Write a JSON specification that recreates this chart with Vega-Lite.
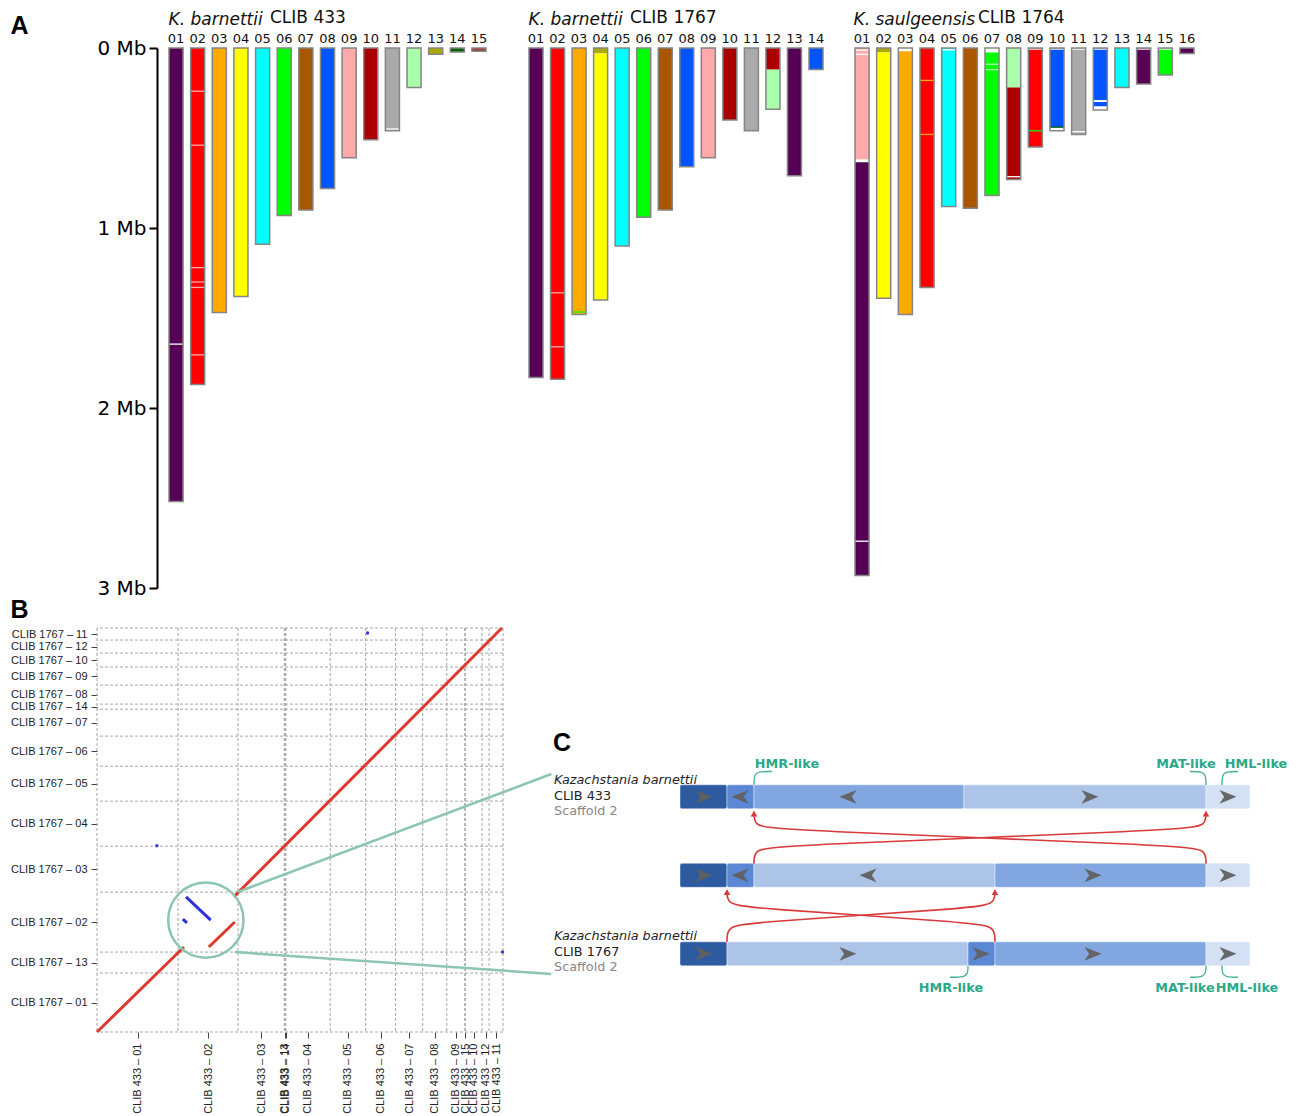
{
"$schema": "https://vega.github.io/schema/vega-lite/v6.json",
"padding": {"left": 10, "top": 9, "right": 0, "bottom": 0},
"background": "white",
"config": {"view": {"stroke": null}, "font": "DejaVu Sans"},
"spacing": -1,
"resolve": {"scale": {"x": "independent", "y": "independent", "color": "independent", "shape": "independent"}},
"datasets": {
"segs": [
{"s":"433","chr":"01","a":0,"b":2.52,"g":"01"},
{"s":"433","chr":"02","a":0,"b":1.87,"g":"02"},
{"s":"433","chr":"03","a":0,"b":1.47,"g":"03"},
{"s":"433","chr":"04","a":0,"b":1.38,"g":"04"},
{"s":"433","chr":"05","a":0,"b":1.09,"g":"05"},
{"s":"433","chr":"06","a":0,"b":0.93,"g":"06"},
{"s":"433","chr":"07","a":0,"b":0.90,"g":"07"},
{"s":"433","chr":"08","a":0,"b":0.78,"g":"08"},
{"s":"433","chr":"09","a":0,"b":0.61,"g":"09"},
{"s":"433","chr":"10","a":0,"b":0.51,"g":"10"},
{"s":"433","chr":"11","a":0,"b":0.46,"g":"11"},
{"s":"433","chr":"12","a":0,"b":0.22,"g":"12"},
{"s":"433","chr":"13","a":0,"b":0.035,"g":"13"},
{"s":"433","chr":"14","a":0,"b":0.022,"g":"14"},
{"s":"433","chr":"15","a":0,"b":0.018,"g":"15"},
{"s":"1767","chr":"01","a":0,"b":1.83,"g":"01"},
{"s":"1767","chr":"02","a":0,"b":1.84,"g":"02"},
{"s":"1767","chr":"03","a":0,"b":1.48,"g":"03"},
{"s":"1767","chr":"04","a":0,"b":0.03,"g":"13"},
{"s":"1767","chr":"04","a":0.03,"b":1.40,"g":"04"},
{"s":"1767","chr":"05","a":0,"b":1.10,"g":"05"},
{"s":"1767","chr":"06","a":0,"b":0.94,"g":"06"},
{"s":"1767","chr":"07","a":0,"b":0.90,"g":"07"},
{"s":"1767","chr":"08","a":0,"b":0.66,"g":"08"},
{"s":"1767","chr":"09","a":0,"b":0.61,"g":"09"},
{"s":"1767","chr":"10","a":0,"b":0.40,"g":"10"},
{"s":"1767","chr":"11","a":0,"b":0.46,"g":"11"},
{"s":"1767","chr":"12","a":0,"b":0.12,"g":"10"},
{"s":"1767","chr":"12","a":0.12,"b":0.34,"g":"12"},
{"s":"1767","chr":"13","a":0,"b":0.71,"g":"01"},
{"s":"1767","chr":"14","a":0,"b":0.12,"g":"08"},
{"s":"1764","chr":"01","a":0,"b":0.62,"g":"09"},
{"s":"1764","chr":"01","a":0.62,"b":0.635,"g":"none"},
{"s":"1764","chr":"01","a":0.635,"b":2.93,"g":"01"},
{"s":"1764","chr":"02","a":0,"b":0.025,"g":"13"},
{"s":"1764","chr":"02","a":0.025,"b":1.39,"g":"04"},
{"s":"1764","chr":"03","a":0,"b":0.018,"g":"none"},
{"s":"1764","chr":"03","a":0.018,"b":1.48,"g":"03"},
{"s":"1764","chr":"04","a":0,"b":1.33,"g":"02"},
{"s":"1764","chr":"05","a":0,"b":0.88,"g":"05"},
{"s":"1764","chr":"06","a":0,"b":0.89,"g":"07"},
{"s":"1764","chr":"07","a":0,"b":0.025,"g":"none"},
{"s":"1764","chr":"07","a":0.025,"b":0.82,"g":"06"},
{"s":"1764","chr":"08","a":0,"b":0.22,"g":"12"},
{"s":"1764","chr":"08","a":0.22,"b":0.73,"g":"10"},
{"s":"1764","chr":"09","a":0,"b":0.55,"g":"02"},
{"s":"1764","chr":"10","a":0,"b":0.44,"g":"08"},
{"s":"1764","chr":"10","a":0.44,"b":0.46,"g":"none"},
{"s":"1764","chr":"11","a":0,"b":0.48,"g":"11"},
{"s":"1764","chr":"12","a":0,"b":0.29,"g":"08"},
{"s":"1764","chr":"12","a":0.29,"b":0.30,"g":"none"},
{"s":"1764","chr":"12","a":0.30,"b":0.325,"g":"08"},
{"s":"1764","chr":"12","a":0.325,"b":0.345,"g":"none"},
{"s":"1764","chr":"13","a":0,"b":0.22,"g":"05"},
{"s":"1764","chr":"14","a":0,"b":0.20,"g":"01"},
{"s":"1764","chr":"15","a":0,"b":0.15,"g":"06"},
{"s":"1764","chr":"16","a":0,"b":0.03,"g":"01"}
],
"stripes": [
{"s":"433","chr":"01","a":1.645,"g":"none"},
{"s":"433","chr":"02","a":0.24,"g":"09"},
{"s":"433","chr":"02","a":0.54,"g":"09"},
{"s":"433","chr":"02","a":1.22,"g":"09"},
{"s":"433","chr":"02","a":1.30,"g":"09"},
{"s":"433","chr":"02","a":1.33,"g":"09"},
{"s":"433","chr":"02","a":1.705,"g":"09"},
{"s":"433","chr":"11","a":0.45,"g":"none"},
{"s":"1767","chr":"02","a":1.36,"g":"09"},
{"s":"1767","chr":"02","a":1.66,"g":"09"},
{"s":"1767","chr":"03","a":1.467,"g":"06"},
{"s":"1764","chr":"01","a":0.012,"g":"none"},
{"s":"1764","chr":"01","a":0.035,"g":"none"},
{"s":"1764","chr":"01","a":2.74,"g":"none"},
{"s":"1764","chr":"04","a":0.18,"g":"03"},
{"s":"1764","chr":"04","a":0.48,"g":"03"},
{"s":"1764","chr":"05","a":0.01,"g":"none"},
{"s":"1764","chr":"07","a":0.09,"g":"12"},
{"s":"1764","chr":"07","a":0.12,"g":"12"},
{"s":"1764","chr":"08","a":0.715,"g":"none"},
{"s":"1764","chr":"09","a":0.006,"g":"none"},
{"s":"1764","chr":"09","a":0.46,"g":"06"},
{"s":"1764","chr":"10","a":0.006,"g":"none"},
{"s":"1764","chr":"10","a":0.44,"g":"14"},
{"s":"1764","chr":"11","a":0.006,"g":"none"},
{"s":"1764","chr":"11","a":0.465,"g":"none"},
{"s":"1764","chr":"12","a":0.006,"g":"none"},
{"s":"1764","chr":"14","a":0.006,"g":"none"},
{"s":"1764","chr":"15","a":0.006,"g":"none"}
],
"chroms": [
{"s":"433","chr":"01","a":0,"b":2.52},{"s":"433","chr":"02","a":0,"b":1.87},{"s":"433","chr":"03","a":0,"b":1.47},
{"s":"433","chr":"04","a":0,"b":1.38},{"s":"433","chr":"05","a":0,"b":1.09},{"s":"433","chr":"06","a":0,"b":0.93},
{"s":"433","chr":"07","a":0,"b":0.90},{"s":"433","chr":"08","a":0,"b":0.78},{"s":"433","chr":"09","a":0,"b":0.61},
{"s":"433","chr":"10","a":0,"b":0.51},{"s":"433","chr":"11","a":0,"b":0.46},{"s":"433","chr":"12","a":0,"b":0.22},
{"s":"433","chr":"13","a":0,"b":0.035},{"s":"433","chr":"14","a":0,"b":0.022},{"s":"433","chr":"15","a":0,"b":0.018},
{"s":"1767","chr":"01","a":0,"b":1.83},{"s":"1767","chr":"02","a":0,"b":1.84},{"s":"1767","chr":"03","a":0,"b":1.48},
{"s":"1767","chr":"04","a":0,"b":1.40},{"s":"1767","chr":"05","a":0,"b":1.10},{"s":"1767","chr":"06","a":0,"b":0.94},
{"s":"1767","chr":"07","a":0,"b":0.90},{"s":"1767","chr":"08","a":0,"b":0.66},{"s":"1767","chr":"09","a":0,"b":0.61},
{"s":"1767","chr":"10","a":0,"b":0.40},{"s":"1767","chr":"11","a":0,"b":0.46},{"s":"1767","chr":"12","a":0,"b":0.34},
{"s":"1767","chr":"13","a":0,"b":0.71},{"s":"1767","chr":"14","a":0,"b":0.12},
{"s":"1764","chr":"01","a":0,"b":2.93},{"s":"1764","chr":"02","a":0,"b":1.39},{"s":"1764","chr":"03","a":0,"b":1.48},
{"s":"1764","chr":"04","a":0,"b":1.33},{"s":"1764","chr":"05","a":0,"b":0.88},{"s":"1764","chr":"06","a":0,"b":0.89},
{"s":"1764","chr":"07","a":0,"b":0.82},{"s":"1764","chr":"08","a":0,"b":0.73},{"s":"1764","chr":"09","a":0,"b":0.55},
{"s":"1764","chr":"10","a":0,"b":0.46},{"s":"1764","chr":"11","a":0,"b":0.48},{"s":"1764","chr":"12","a":0,"b":0.345},
{"s":"1764","chr":"13","a":0,"b":0.22},{"s":"1764","chr":"14","a":0,"b":0.20},{"s":"1764","chr":"15","a":0,"b":0.15},
{"s":"1764","chr":"16","a":0,"b":0.03}
],
"bx": [{"v":0},{"v":2.56},{"v":4.45},{"v":5.91},{"v":5.94},{"v":5.96},{"v":7.36},{"v":8.48},{"v":9.42},{"v":10.28},{"v":11.04},{"v":11.61},{"v":11.625},{"v":12.155},{"v":12.375},{"v":12.815}],
"by": [{"v":0},{"v":1.86},{"v":2.52},{"v":4.41},{"v":5.86},{"v":7.28},{"v":8.38},{"v":9.33},{"v":10.18},{"v":10.34},{"v":10.94},{"v":11.51},{"v":11.95},{"v":12.36},{"v":12.74}],
"bsegs": [
{"x1":0,"y1":0,"x2":2.743,"y2":2.68,"k":"syn"},
{"x1":3.53,"y1":2.68,"x2":4.35,"y2":3.47,"k":"syn"},
{"x1":4.32,"y1":4.26,"x2":12.78,"y2":12.74,"k":"syn"},
{"x1":2.81,"y1":4.26,"x2":3.59,"y2":3.53,"k":"inv"},
{"x1":2.71,"y1":3.56,"x2":2.84,"y2":3.44,"k":"inv"}
],
"bdots": [{"x":1.89,"y":5.87},{"x":8.54,"y":12.58},{"x":12.8,"y":2.52}],
"bzoom": [{"x":3.436,"y":3.53}],
"blinks": [{"x1":4.445,"y1":4.415,"x2":14.34,"y2":8.135},{"x1":4.35,"y1":2.52,"x2":14.34,"y2":1.83}],
"cblocks": [
{"t":0,"u":0,"u2":8.25,"shade":"L"},{"t":0,"u":8.25,"u2":12.98,"shade":"HMR"},{"t":0,"u":12.98,"u2":49.82,"shade":"b1"},{"t":0,"u":49.82,"u2":92.28,"shade":"b2"},{"t":0,"u":92.28,"u2":100,"shade":"R"},
{"t":1,"u":0,"u2":8.25,"shade":"L"},{"t":1,"u":8.25,"u2":12.98,"shade":"HMR"},{"t":1,"u":12.98,"u2":55.26,"shade":"b2"},{"t":1,"u":55.26,"u2":92.28,"shade":"b1"},{"t":1,"u":92.28,"u2":100,"shade":"R"},
{"t":2,"u":0,"u2":8.25,"shade":"L"},{"t":2,"u":8.25,"u2":50.53,"shade":"b2"},{"t":2,"u":50.53,"u2":55.26,"shade":"HMR"},{"t":2,"u":55.26,"u2":92.28,"shade":"b1"},{"t":2,"u":92.28,"u2":100,"shade":"R"}
],
"carrows": [
{"t":0,"u":4.21,"dir":"fwd"},{"t":0,"u":10.53,"dir":"rev"},{"t":0,"u":29.47,"dir":"rev"},{"t":0,"u":71.93,"dir":"fwd"},{"t":0,"u":96.14,"dir":"fwd"},
{"t":1,"u":4.21,"dir":"fwd"},{"t":1,"u":10.53,"dir":"rev"},{"t":1,"u":32.98,"dir":"rev"},{"t":1,"u":72.46,"dir":"fwd"},{"t":1,"u":96.14,"dir":"fwd"},
{"t":2,"u":4.21,"dir":"fwd"},{"t":2,"u":29.47,"dir":"fwd"},{"t":2,"u":52.81,"dir":"fwd"},{"t":2,"u":72.46,"dir":"fwd"},{"t":2,"u":96.14,"dir":"fwd"}
],
"ccurves": [
{"c":"A","i":0,"u":12.98,"t":0.19},{"c":"A","i":1,"u":12.98,"t":0.36},{"c":"A","i":2,"u":16.14,"t":0.422},{"c":"A","i":3,"u":89.12,"t":0.621},{"c":"A","i":4,"u":92.28,"t":0.683},{"c":"A","i":5,"u":92.28,"t":0.857},
{"c":"B","i":0,"u":92.28,"t":0.19},{"c":"B","i":1,"u":92.28,"t":0.36},{"c":"B","i":2,"u":89.12,"t":0.422},{"c":"B","i":3,"u":16.14,"t":0.621},{"c":"B","i":4,"u":12.98,"t":0.683},{"c":"B","i":5,"u":12.98,"t":0.857},
{"c":"C","i":0,"u":8.25,"t":1.19},{"c":"C","i":1,"u":8.25,"t":1.354},{"c":"C","i":2,"u":11.4,"t":1.416},{"c":"C","i":3,"u":52.11,"t":1.602},{"c":"C","i":4,"u":55.26,"t":1.665},{"c":"C","i":5,"u":55.26,"t":1.851},
{"c":"D","i":0,"u":55.26,"t":1.19},{"c":"D","i":1,"u":55.26,"t":1.354},{"c":"D","i":2,"u":52.11,"t":1.416},{"c":"D","i":3,"u":11.4,"t":1.602},{"c":"D","i":4,"u":8.25,"t":1.665},{"c":"D","i":5,"u":8.25,"t":1.851}
],
"cheads": [{"u":12.98,"t":0.215},{"u":92.28,"t":0.215},{"u":8.25,"t":1.215},{"u":55.26,"t":1.215}],
"chooks": [
{"h":"1","i":0,"u":12.98,"t":-0.149},{"h":"1","i":1,"u":12.98,"t":-0.273},{"h":"1","i":2,"u":13.68,"t":-0.323},{"h":"1","i":3,"u":16.14,"t":-0.323},
{"h":"2","i":0,"u":92.28,"t":-0.149},{"h":"2","i":1,"u":92.28,"t":-0.273},{"h":"2","i":2,"u":91.58,"t":-0.323},{"h":"2","i":3,"u":89.47,"t":-0.323},
{"h":"3","i":0,"u":95.09,"t":-0.149},{"h":"3","i":1,"u":95.09,"t":-0.273},{"h":"3","i":2,"u":95.79,"t":-0.323},{"h":"3","i":3,"u":97.89,"t":-0.323},
{"h":"4","i":0,"u":50.53,"t":2.149},{"h":"4","i":1,"u":50.53,"t":2.248},{"h":"4","i":2,"u":49.82,"t":2.298},{"h":"4","i":3,"u":47.37,"t":2.298},
{"h":"5","i":0,"u":92.28,"t":2.149},{"h":"5","i":1,"u":92.28,"t":2.248},{"h":"5","i":2,"u":91.58,"t":2.298},{"h":"5","i":3,"u":89.47,"t":2.298},
{"h":"6","i":0,"u":95.09,"t":2.149},{"h":"6","i":1,"u":95.09,"t":2.248},{"h":"6","i":2,"u":95.79,"t":2.298},{"h":"6","i":3,"u":97.89,"t":2.298}
],
"clabels": [
{"u":18.77,"t":-0.422,"label":"HMR-like"},{"u":88.77,"t":-0.422,"label":"MAT-like"},{"u":101.05,"t":-0.422,"label":"HML-like"},
{"u":47.54,"t":2.435,"label":"HMR-like"},{"u":88.6,"t":2.435,"label":"MAT-like"},{"u":99.47,"t":2.435,"label":"HML-like"}
],
"cspecies": [{"u":-22.1,"t":-0.211,"label":"Kazachstania barnettii"},{"u":-22.1,"t":1.776,"label":"Kazachstania barnettii"}],
"cstrain": [{"u":-22.1,"t":-0.012,"label":"CLIB 433"},{"u":-22.1,"t":1.975,"label":"CLIB 1767"}],
"cscaf": [{"u":-22.1,"t":0.186,"label":"Scaffold 2"},{"u":-22.1,"t":2.174,"label":"Scaffold 2"}],
"cletter": [{"u":-22.28,"t":-0.683,"label":"C"}]
},
"vconcat": [
{
"hconcat": [
{
"width": 410, "height": 540,
"title": {"text": "CLIB 433", "anchor": "start", "frame": "group", "dx": 173, "dy": 17, "offset": 0, "fontSize": 17, "fontWeight": "normal", "font": "DejaVu Sans", "color": "#111111"},
"encoding": {
"x": {"field": "chr", "type": "ordinal", "title": "K. barnettii",
"scale": {"domain": ["01","02","03","04","05","06","07","08","09","10","11","12","13","14","15"], "range": [72, 389], "paddingInner": 0.35, "paddingOuter": 0, "round": false},
"axis": {"orient": "top", "titleFont": "DejaVu Sans", "titleFontSize": 17, "titleFontStyle": "italic", "titleFontWeight": "normal", "titleColor": "#111111", "titleX": 71, "titleAlign": "left", "titlePadding": 4, "labelFont": "DejaVu Sans", "labelFontSize": 13, "labelColor": "#111111", "labelPadding": 3, "labelAngle": 0, "ticks": false, "tickSize": 0, "domain": false, "grid": false}},
"y": {"field": "a", "type": "quantitative", "title": "A",
"scale": {"domain": [0, 3], "reverse": true, "nice": false, "zero": false},
"axis": {"orient": "left", "offset": -60, "values": [0, 1, 2, 3], "tickCount": 100, "labelExpr": "datum.value + ' Mb'", "labelFont": "DejaVu Sans", "labelFontSize": 20, "labelColor": "#000000", "labelPadding": 3, "tickSize": 8, "tickWidth": 2, "tickColor": "#000000", "domainColor": "#000000", "domainWidth": 2, "grid": false, "labelFlush": false, "labelOverlap": false, "titleAngle": 0, "titleX": -147, "titleY": -23, "titleAlign": "left", "titleBaseline": "middle", "titleFont": "Liberation Sans", "titleFontSize": 25, "titleFontWeight": "bold", "titleColor": "#000000"}}
},
"layer": [
{"data": {"name": "segs"}, "transform": [{"filter": "datum.s == '433'"}], "mark": {"type": "rect"},
"encoding": {"y2": {"field": "b"}, "color": {"field": "g", "type": "nominal", "legend": null, "scale": {"domain": ["01","02","03","04","05","06","07","08","09","10","11","12","13","14","15","none"], "range": ["#550055","#ff0000","#ffaa00","#ffff00","#00ffff","#00ff00","#aa5500","#0055ff","#ffaaaa","#aa0000","#aaaaaa","#aaffaa","#aaaa00","#006600","#aa3a3a","#ffffff"]}}}},
{"data": {"name": "stripes"}, "transform": [{"filter": "datum.s == '433'"}], "mark": {"type": "tick", "size": 14, "thickness": 1.3, "opacity": 1},
"encoding": {"color": {"field": "g", "type": "nominal", "legend": null, "scale": {"domain": ["01","02","03","04","05","06","07","08","09","10","11","12","13","14","15","none"], "range": ["#550055","#ff0000","#ffaa00","#ffff00","#00ffff","#00ff00","#aa5500","#0055ff","#ffaaaa","#aa0000","#aaaaaa","#aaffaa","#aaaa00","#006600","#aa3a3a","#ffffff"]}}}},
{"data": {"name": "chroms"}, "transform": [{"filter": "datum.s == '433'"}], "mark": {"type": "rect", "fillOpacity": 0, "stroke": "#858585", "strokeWidth": 1.5},
"encoding": {"y2": {"field": "b"}}}
]
},
{
"width": 332, "height": 540,
"title": {"text": "CLIB 1767", "anchor": "start", "frame": "group", "dx": 123, "dy": 17, "offset": 0, "fontSize": 17, "fontWeight": "normal", "font": "DejaVu Sans", "color": "#111111"},
"encoding": {
"x": {"field": "chr", "type": "ordinal", "title": "K. barnettii",
"scale": {"domain": ["01","02","03","04","05","06","07","08","09","10","11","12","13","14"], "range": [22, 316], "paddingInner": 0.35, "paddingOuter": 0, "round": false},
"axis": {"orient": "top", "titleFont": "DejaVu Sans", "titleFontSize": 17, "titleFontStyle": "italic", "titleFontWeight": "normal", "titleColor": "#111111", "titleX": 21, "titleAlign": "left", "titlePadding": 4, "labelFont": "DejaVu Sans", "labelFontSize": 13, "labelColor": "#111111", "labelPadding": 3, "labelAngle": 0, "ticks": false, "tickSize": 0, "domain": false, "grid": false}},
"y": {"field": "a", "type": "quantitative", "scale": {"domain": [0, 3], "reverse": true, "nice": false, "zero": false}, "axis": null}
},
"layer": [
{"data": {"name": "segs"}, "transform": [{"filter": "datum.s == '1767'"}], "mark": {"type": "rect"},
"encoding": {"y2": {"field": "b"}, "color": {"field": "g", "type": "nominal", "legend": null, "scale": {"domain": ["01","02","03","04","05","06","07","08","09","10","11","12","13","14","15","none"], "range": ["#550055","#ff0000","#ffaa00","#ffff00","#00ffff","#00ff00","#aa5500","#0055ff","#ffaaaa","#aa0000","#aaaaaa","#aaffaa","#aaaa00","#006600","#aa3a3a","#ffffff"]}}}},
{"data": {"name": "stripes"}, "transform": [{"filter": "datum.s == '1767'"}], "mark": {"type": "tick", "size": 14, "thickness": 1.3, "opacity": 1},
"encoding": {"color": {"field": "g", "type": "nominal", "legend": null, "scale": {"domain": ["01","02","03","04","05","06","07","08","09","10","11","12","13","14","15","none"], "range": ["#550055","#ff0000","#ffaa00","#ffff00","#00ffff","#00ff00","#aa5500","#0055ff","#ffaaaa","#aa0000","#aaaaaa","#aaffaa","#aaaa00","#006600","#aa3a3a","#ffffff"]}}}},
{"data": {"name": "chroms"}, "transform": [{"filter": "datum.s == '1767'"}], "mark": {"type": "rect", "fillOpacity": 0, "stroke": "#858585", "strokeWidth": 1.5},
"encoding": {"y2": {"field": "b"}}}
]
},
{
"width": 371, "height": 540,
"title": {"text": "CLIB 1764", "anchor": "start", "frame": "group", "dx": 139, "dy": 17, "offset": 0, "fontSize": 17, "fontWeight": "normal", "font": "DejaVu Sans", "color": "#111111"},
"encoding": {
"x": {"field": "chr", "type": "ordinal", "title": "K. saulgeensis",
"scale": {"domain": ["01","02","03","04","05","06","07","08","09","10","11","12","13","14","15","16"], "range": [16, 355], "paddingInner": 0.35, "paddingOuter": 0, "round": false},
"axis": {"orient": "top", "titleFont": "DejaVu Sans", "titleFontSize": 17, "titleFontStyle": "italic", "titleFontWeight": "normal", "titleColor": "#111111", "titleX": 14, "titleAlign": "left", "titlePadding": 4, "labelFont": "DejaVu Sans", "labelFontSize": 13, "labelColor": "#111111", "labelPadding": 3, "labelAngle": 0, "ticks": false, "tickSize": 0, "domain": false, "grid": false}},
"y": {"field": "a", "type": "quantitative", "scale": {"domain": [0, 3], "reverse": true, "nice": false, "zero": false}, "axis": null}
},
"layer": [
{"data": {"name": "segs"}, "transform": [{"filter": "datum.s == '1764'"}], "mark": {"type": "rect"},
"encoding": {"y2": {"field": "b"}, "color": {"field": "g", "type": "nominal", "legend": null, "scale": {"domain": ["01","02","03","04","05","06","07","08","09","10","11","12","13","14","15","none"], "range": ["#550055","#ff0000","#ffaa00","#ffff00","#00ffff","#00ff00","#aa5500","#0055ff","#ffaaaa","#aa0000","#aaaaaa","#aaffaa","#aaaa00","#006600","#aa3a3a","#ffffff"]}}}},
{"data": {"name": "stripes"}, "transform": [{"filter": "datum.s == '1764'"}], "mark": {"type": "tick", "size": 14, "thickness": 1.3, "opacity": 1},
"encoding": {"color": {"field": "g", "type": "nominal", "legend": null, "scale": {"domain": ["01","02","03","04","05","06","07","08","09","10","11","12","13","14","15","none"], "range": ["#550055","#ff0000","#ffaa00","#ffff00","#00ffff","#00ff00","#aa5500","#0055ff","#ffaaaa","#aa0000","#aaaaaa","#aaffaa","#aaaa00","#006600","#aa3a3a","#ffffff"]}}}},
{"data": {"name": "chroms"}, "transform": [{"filter": "datum.s == '1764'"}], "mark": {"type": "rect", "fillOpacity": 0, "stroke": "#858585", "strokeWidth": 1.5},
"encoding": {"y2": {"field": "b"}}}
]
}
],
"spacing": 0,
"bounds": "flush",
"resolve": {"scale": {"x": "independent", "y": "independent", "color": "independent"}}
},
{
"hconcat": [
{
"width": 406, "height": 404,
"layer": [
{"data": {"name": "bx"}, "mark": {"type": "rule", "strokeDash": [3, 2], "color": "#9c9c9c", "strokeWidth": 0.9},
"encoding": {"x": {"field": "v", "type": "quantitative", "title": null,
"scale": {"domain": [0, 12.815], "nice": false, "zero": false},
"axis": {"orient": "bottom", "values": [1.28,3.505,5.18,5.925,5.95,6.66,7.92,8.95,9.85,10.66,11.325,11.618,11.89,12.265,12.595], "tickCount": 100,
"labelExpr": "['CLIB 433 – 01','CLIB 433 – 02','CLIB 433 – 03','CLIB 433 – 13','CLIB 433 – 14','CLIB 433 – 04','CLIB 433 – 05','CLIB 433 – 06','CLIB 433 – 07','CLIB 433 – 08','CLIB 433 – 09','CLIB 433 – 15','CLIB 433 – 10','CLIB 433 – 12','CLIB 433 – 11'][indexof([1.28,3.505,5.18,5.925,5.95,6.66,7.92,8.95,9.85,10.66,11.325,11.618,11.89,12.265,12.595], datum.value)]",
"labelAngle": 270, "labelFont": "Liberation Sans", "labelFontSize": 11, "labelColor": "#222222", "labelPadding": 5, "labelOverlap": false, "labelFlush": false, "labelBound": false, "tickSize": 6, "tickColor": "#444444", "tickWidth": 1, "domain": false, "grid": false}}}},
{"data": {"name": "by"}, "mark": {"type": "rule", "strokeDash": [3, 2], "color": "#9c9c9c", "strokeWidth": 0.9},
"encoding": {"y": {"field": "v", "type": "quantitative", "title": "B",
"scale": {"domain": [0, 12.74], "nice": false, "zero": false},
"axis": {"orient": "left", "values": [0.93,2.19,3.465,5.135,6.57,7.83,8.855,9.755,10.26,10.64,11.225,11.73,12.155,12.55], "tickCount": 100,
"labelExpr": "['CLIB 1767 – 01','CLIB 1767 – 13','CLIB 1767 – 02','CLIB 1767 – 03','CLIB 1767 – 04','CLIB 1767 – 05','CLIB 1767 – 06','CLIB 1767 – 07','CLIB 1767 – 14','CLIB 1767 – 08','CLIB 1767 – 09','CLIB 1767 – 10','CLIB 1767 – 12','CLIB 1767 – 11'][indexof([0.93,2.19,3.465,5.135,6.57,7.83,8.855,9.755,10.26,10.64,11.225,11.73,12.155,12.55], datum.value)]",
"labelFont": "Liberation Sans", "labelFontSize": 11, "labelColor": "#222222", "labelPadding": 4, "labelOverlap": false, "labelFlush": false, "labelBound": false, "tickSize": 6, "tickColor": "#444444", "tickWidth": 1, "domain": false, "grid": false,
"titleAngle": 0, "titleX": -87, "titleY": -19, "titleAlign": "left", "titleBaseline": "middle", "titleFont": "Liberation Sans", "titleFontSize": 25, "titleFontWeight": "bold", "titleColor": "#000000"}}}},
{"data": {"name": "bsegs"}, "mark": {"type": "rule", "strokeWidth": 3, "strokeCap": "butt"},
"encoding": {"x": {"field": "x1", "type": "quantitative", "title": null}, "y": {"field": "y1", "type": "quantitative", "title": "B"}, "x2": {"field": "x2"}, "y2": {"field": "y2"},
"color": {"field": "k", "type": "nominal", "legend": null, "scale": {"domain": ["syn", "inv"], "range": ["#dd3a2e", "#3030d8"]}}}},
{"data": {"name": "bdots"}, "mark": {"type": "point", "filled": true, "size": 12, "color": "#3a3ae0", "opacity": 1},
"encoding": {"x": {"field": "x", "type": "quantitative", "title": null}, "y": {"field": "y", "type": "quantitative", "title": "B"}}},
{"data": {"name": "bzoom"}, "mark": {"type": "point", "shape": "circle", "filled": false, "size": 5675, "color": "#8cc5b2", "strokeWidth": 2.5, "opacity": 1},
"encoding": {"x": {"field": "x", "type": "quantitative", "title": null}, "y": {"field": "y", "type": "quantitative", "title": "B"}}},
{"data": {"name": "blinks"}, "mark": {"type": "rule", "color": "#8cc5b2", "strokeWidth": 2.5},
"encoding": {"x": {"field": "x1", "type": "quantitative", "title": null}, "y": {"field": "y1", "type": "quantitative", "title": "B"}, "x2": {"field": "x2"}, "y2": {"field": "y2"}}}
]
},
{
"width": 750, "height": 404,
"encoding": {
"x": {"field": "u", "type": "quantitative", "title": null, "scale": {"domain": [-24.56, 107.02], "nice": false, "zero": false}, "axis": null},
"y": {"field": "t", "type": "quantitative", "title": null, "scale": {"domain": [-2.087, 2.932], "reverse": true, "nice": false, "zero": false}, "axis": null}
},
"layer": [
{"data": {"name": "ccurves"}, "mark": {"type": "line", "interpolate": "basis", "color": "#d8393b", "strokeWidth": 1.6},
"encoding": {"detail": {"field": "c", "type": "nominal"}, "order": {"field": "i", "type": "quantitative"}}},
{"data": {"name": "cblocks"}, "mark": {"type": "bar", "orient": "horizontal", "size": 24, "cornerRadius": 2, "stroke": "#ffffff", "strokeWidth": 0.6, "strokeOpacity": 0.7},
"encoding": {"x2": {"field": "u2"}, "color": {"field": "shade", "type": "nominal", "legend": null, "scale": {"domain": ["L", "HMR", "b1", "b2", "R"], "range": ["#2e5b9f", "#5a88d5", "#82a6df", "#adc4e9", "#d4e1f4"]}}}},
{"data": {"name": "cheads"}, "mark": {"type": "point", "shape": "triangle-up", "filled": true, "size": 45, "color": "#d8393b", "opacity": 1}},
{"data": {"name": "carrows"}, "mark": {"type": "point", "filled": true, "size": 290, "color": "#606060", "opacity": 0.95, "strokeWidth": 0},
"encoding": {"shape": {"field": "dir", "type": "nominal", "legend": null, "scale": {"domain": ["fwd", "rev"], "range": ["M-1,-0.8L1,0L-1,0.8L-0.45,0Z", "M1,-0.8L-1,0L1,0.8L0.45,0Z"]}}}},
{"data": {"name": "chooks"}, "mark": {"type": "line", "interpolate": "basis", "color": "#45b094", "strokeWidth": 1.3},
"encoding": {"detail": {"field": "h", "type": "nominal"}, "order": {"field": "i", "type": "quantitative"}}},
{"data": {"name": "clabels"}, "mark": {"type": "text", "font": "DejaVu Sans", "fontWeight": "bold", "fontSize": 12.8, "color": "#2aa889", "align": "center", "baseline": "middle"},
"encoding": {"text": {"field": "label"}}},
{"data": {"name": "cspecies"}, "mark": {"type": "text", "font": "DejaVu Sans", "fontStyle": "italic", "fontSize": 12.8, "color": "#222222", "align": "left", "baseline": "middle"},
"encoding": {"text": {"field": "label"}}},
{"data": {"name": "cstrain"}, "mark": {"type": "text", "font": "DejaVu Sans", "fontSize": 12.8, "color": "#222222", "align": "left", "baseline": "middle"},
"encoding": {"text": {"field": "label"}}},
{"data": {"name": "cscaf"}, "mark": {"type": "text", "font": "DejaVu Sans", "fontSize": 12.8, "color": "#888888", "align": "left", "baseline": "middle"},
"encoding": {"text": {"field": "label"}}},
{"data": {"name": "cletter"}, "mark": {"type": "text", "font": "Liberation Sans", "fontWeight": "bold", "fontSize": 25, "color": "#000000", "align": "left", "baseline": "middle"},
"encoding": {"text": {"field": "label"}}}
]
}
],
"spacing": 37,
"bounds": "flush",
"resolve": {"scale": {"x": "independent", "y": "independent", "color": "independent", "shape": "independent"}}
}
]
}
